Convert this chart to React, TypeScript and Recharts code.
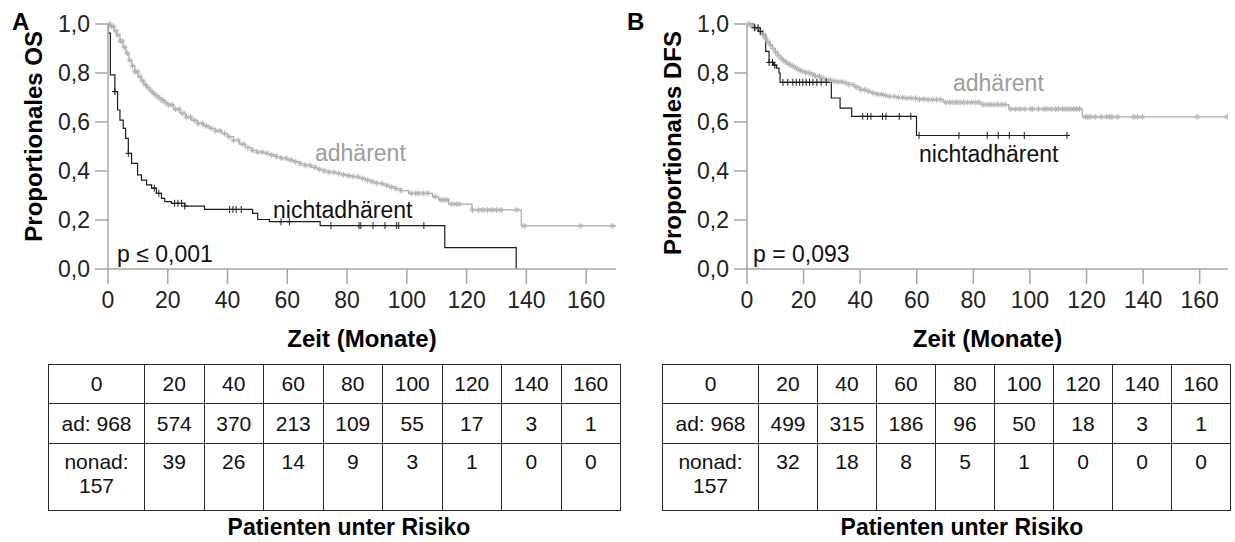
import React from 'react'
import { ComposedChart, Line, Scatter, XAxis, YAxis } from 'recharts'

// x axis (months) and y axis (proportion surviving)
const monthTicks = [0, 20, 40, 60, 80, 100, 120, 140, 160]
const survTicks = [0, 0.2, 0.4, 0.6, 0.8, 1]

// Kaplan-Meier steps [month, proportion]
const osAdCurve: [number, number][] = [
  [0, 1], [1, 0.99], [2, 0.972], [3, 0.955], [4, 0.93], [5, 0.905], [6, 0.88], [7, 0.852],
  [8, 0.83], [9, 0.805], [10, 0.785], [11, 0.768], [12, 0.752], [13, 0.74], [14, 0.728],
  [15, 0.717], [16, 0.708], [17, 0.7], [18, 0.69], [19, 0.68], [20, 0.67], [22, 0.652],
  [24, 0.636], [26, 0.62], [28, 0.607], [30, 0.594], [32, 0.583], [34, 0.574], [36, 0.564],
  [38, 0.553], [40, 0.54], [42, 0.525], [44, 0.51], [46, 0.496], [48, 0.484], [50, 0.477],
  [52, 0.472], [54, 0.466], [56, 0.459], [58, 0.452], [60, 0.445], [62, 0.438], [64, 0.43],
  [66, 0.423], [68, 0.415], [70, 0.407], [72, 0.4], [74, 0.395], [76, 0.39], [78, 0.385],
  [80, 0.381], [82, 0.377], [84, 0.37], [86, 0.363], [88, 0.356], [90, 0.349], [92, 0.342],
  [94, 0.335], [96, 0.328], [98, 0.32], [100.6, 0.309], [108.6, 0.295], [110.7, 0.282],
  [114, 0.265], [121.8, 0.241], [138.3, 0.176], [170, 0.176],
]
const osNonadCurve: [number, number][] = [
  [0, 1], [0, 0.963], [0.8, 0.792], [2.3, 0.724], [3.2, 0.649], [4, 0.608], [5.1, 0.574],
  [5.9, 0.533], [6.8, 0.472], [7.9, 0.431], [9.9, 0.384], [11.2, 0.363], [12.9, 0.343],
  [14.6, 0.33], [16.2, 0.309], [17.9, 0.288], [19, 0.275], [21.2, 0.268], [25.7, 0.257],
  [32.3, 0.243], [48.4, 0.227], [50.1, 0.202], [54, 0.193], [71, 0.177], [112.7, 0.087],
  [136.6, 0.087], [136.6, 0],
]
const dfsAdCurve: [number, number][] = [
  [0, 1], [1, 0.997], [2, 0.99], [3, 0.982], [4, 0.97], [5, 0.957], [6, 0.942], [7, 0.928],
  [8, 0.915], [9, 0.9], [10, 0.885], [11, 0.872], [12, 0.86], [13, 0.85], [14, 0.842],
  [15, 0.835], [16, 0.828], [17, 0.82], [18, 0.813], [19, 0.807], [20, 0.802], [22, 0.795],
  [24, 0.787], [26, 0.778], [28, 0.771], [30, 0.766], [32, 0.764], [34, 0.761], [36, 0.753],
  [38, 0.742], [40, 0.732], [42, 0.725], [44, 0.719], [46, 0.713], [48, 0.708], [50, 0.704],
  [53, 0.7], [56, 0.697], [60, 0.693], [64, 0.691], [69.5, 0.68], [82.8, 0.671],
  [92.5, 0.653], [118.5, 0.621], [170, 0.621],
]
const dfsNonadCurve: [number, number][] = [
  [0, 1], [2.5, 0.985], [4.2, 0.97], [5.6, 0.958], [6.6, 0.888], [7.8, 0.843], [9.4, 0.832],
  [10.4, 0.82], [11.3, 0.8], [11.7, 0.762], [29.8, 0.698], [32.9, 0.657], [37, 0.623],
  [59.9, 0.545], [113.1, 0.545],
]

// censored observations (months)
const osAdCensor = [
  0.5, 1.2, 1.8, 2.6, 3.3, 4.1, 4.8, 5.6, 6.5, 7.3, 8.2, 9.0, 9.9, 10.8, 11.6, 12.5, 13.4,
  14.3, 15.2, 16.1, 17.0, 18.0, 19.1, 20.2, 21.4, 22.6, 23.8, 25.0, 26.3, 27.6, 28.9, 30.2,
  31.6, 33.0, 34.5, 36.0, 37.5, 39.0, 40.5, 42.0, 43.6, 45.2, 46.8, 48.4, 50.0, 51.6, 53.2,
  54.8, 56.4, 58.0, 59.6, 61.2, 62.8, 64.4, 66.0, 67.6, 69.2, 70.8, 72.4, 74.0, 75.6, 77.2,
  78.8, 80.4, 82.0, 83.6, 85.2, 86.8, 88.4, 90.0, 91.6, 93.2, 94.8, 96.4, 98.0, 101.5, 103.0,
  104.0, 105.5, 107.0, 109.5, 111.5, 112.5, 113.5, 115.0, 116.5, 117.5, 122.0, 124.0, 125.5,
  127.0, 128.5, 130.0, 131.5, 136.8, 139.3, 158.2, 168.8,
]
const osNonadCensor = [
  2.3, 6.8, 15.5, 17, 22.3, 23.4, 24.6, 25.7, 40.7, 41.8, 42.9, 44.6, 57.9, 60.7, 74.6, 84,
  84.6, 88.7, 92.7, 96.6, 97.3, 105.7,
]
const dfsAdCensor = [
  0.5, 1.3, 2.1, 3.0, 3.8, 4.7, 5.6, 6.5, 7.4, 8.3, 9.2, 10.1, 11.0, 12.0, 13.0, 14.0, 15.1,
  16.2, 17.3, 18.4, 19.5, 20.7, 21.9, 23.1, 24.3, 25.6, 26.9, 28.2, 29.5, 30.8, 32.1, 33.4,
  34.7, 36.0, 37.4, 38.8, 40.2, 41.6, 43.0, 44.5, 46.0, 47.5, 49.0, 50.5, 52.0, 53.5, 55.0,
  56.5, 58.0, 59.5, 61.0, 62.5, 64.0, 65.5, 67.0, 68.5, 70.2, 71.5, 72.8, 74.0, 75.3, 76.6,
  78.0, 79.3, 80.6, 81.9, 83.5, 84.8, 86.0, 87.3, 88.6, 89.9, 91.2, 93.3, 95.0, 96.5, 98.2,
  100.3, 101.0, 103.0, 105.0, 106.0, 107.5, 109.0, 110.0, 111.5, 112.5, 113.5, 114.5, 115.5,
  116.5, 117.5, 119.6, 120.5, 121.5, 123.1, 125.2, 127.0, 128.2, 129.0, 131.0, 136.7, 138.0,
  139.7, 159.1, 169.7,
]
const dfsNonadCensor = [
  2.7, 3.9, 4.7, 7.8, 9, 9.8, 12.7, 14.4, 16.2, 17.4, 18.6, 19.7, 20.9, 22.1, 23.3, 24.7,
  26.2, 28, 40.9, 42.6, 43.8, 47.9, 49.1, 53.8, 57.9, 60.8, 74.9, 84.9, 88.8, 92.7, 98, 113.1,
]

// numbers at risk
const riskHeader = ['0', '20', '40', '60', '80', '100', '120', '140', '160']
const osAdRisk = ['ad: 968', '574', '370', '213', '109', '55', '17', '3', '1']
const osNonadRisk = ['nonad: 157', '39', '26', '14', '9', '3', '1', '0', '0']
const dfsAdRisk = ['ad: 968', '499', '315', '186', '96', '50', '18', '3', '1']
const dfsNonadRisk = ['nonad: 157', '32', '18', '8', '5', '1', '0', '0', '0']

const FONT = '"Liberation Sans", Arial, sans-serif'
const GRAY_LINE = '#a9a9a9'
const GRAY_MARK = '#b4b4b4'
const DARK = '#1c1c1c'
const AXIS = '#a6a6a6'

const toPoints = (c: [number, number][]) => c.map(([t, s]) => ({ t, s }))

function survAt(curve: [number, number][], t: number) {
  let s = curve[0][1]
  for (const [ct, cs] of curve) if (ct <= t) s = cs
  return s
}
const censorPoints = (curve: [number, number][], times: number[]) =>
  times.map((t) => ({ t, s: survAt(curve, t) }))

const fmt = (v: number) => v.toFixed(1).replace('.', ',')

function GrayMark(props: any) {
  const { cx, cy } = props
  if (cx == null || cy == null) return <g />
  return (
    <g stroke={GRAY_MARK} strokeWidth={1}>
      <line x1={cx} y1={cy - 3} x2={cx} y2={cy + 3} />
      <line x1={cx - 3} y1={cy} x2={cx + 3} y2={cy} />
      <line x1={cx - 2} y1={cy - 2} x2={cx + 2} y2={cy + 2} />
      <line x1={cx - 2} y1={cy + 2} x2={cx + 2} y2={cy - 2} />
    </g>
  )
}

function DarkMark(props: any) {
  const { cx, cy } = props
  if (cx == null || cy == null) return <g />
  return (
    <g stroke={DARK} strokeWidth={1}>
      <line x1={cx} y1={cy - 3.5} x2={cx} y2={cy + 3.5} />
      <line x1={cx - 3} y1={cy} x2={cx + 3} y2={cy} />
    </g>
  )
}

type PanelProps = {
  letter: string
  yTitle: string
  pText: string
  adCurve: [number, number][]
  nonadCurve: [number, number][]
  adCensor: number[]
  nonadCensor: number[]
  width: number
  marginLeft: number
  marginRight: number
  letterX: number
  titleX: number
  titleSize: number
  adLabel: [number, number]
  nonadLabel: [number, number]
  pX: number
}

function KmPanel(p: PanelProps) {
  const plotCenter = p.marginLeft + 60 + (p.width - p.marginLeft - 60 - p.marginRight) / 2
  return (
    <ComposedChart
      width={p.width}
      height={360}
      margin={{ top: 24, right: p.marginRight, bottom: 31, left: p.marginLeft }}
      style={{ fontFamily: FONT }}
    >
      <XAxis
        dataKey="t"
        type="number"
        domain={[0, 170]}
        ticks={monthTicks}
        allowDataOverflow
        height={60}
        stroke={AXIS}
        strokeWidth={1.5}
        tickSize={15}
        tickMargin={8}
        tick={{ fill: '#222', fontSize: 23, fontFamily: FONT }}
      />
      <YAxis
        dataKey="s"
        type="number"
        domain={[0, 1]}
        ticks={survTicks}
        width={60}
        stroke={AXIS}
        strokeWidth={1.5}
        tickSize={13}
        tickMargin={5}
        tickFormatter={fmt}
        tick={{ fill: '#222', fontSize: 23, fontFamily: FONT }}
      />
      <Line
        data={toPoints(p.adCurve)}
        dataKey="s"
        type="stepAfter"
        stroke={GRAY_LINE}
        strokeWidth={1.2}
        dot={false}
        activeDot={false}
        isAnimationActive={false}
      />
      <Line
        data={toPoints(p.nonadCurve)}
        dataKey="s"
        type="stepAfter"
        stroke={DARK}
        strokeWidth={1.2}
        dot={false}
        activeDot={false}
        isAnimationActive={false}
      />
      <Scatter
        data={censorPoints(p.adCurve, p.adCensor)}
        dataKey="s"
        shape={(props: any) => <GrayMark {...props} />}
        isAnimationActive={false}
      />
      <Scatter
        data={censorPoints(p.nonadCurve, p.nonadCensor)}
        dataKey="s"
        shape={(props: any) => <DarkMark {...props} />}
        isAnimationActive={false}
      />
      <text x={p.letterX} y={30} fontSize={24} fontWeight="bold" fill="#000" fontFamily={FONT}>
        {p.letter}
      </text>
      <text
        x={p.titleX}
        y={31}
        transform={`rotate(-90, ${p.titleX}, 31)`}
        textAnchor="end"
        fontSize={p.titleSize}
        fontWeight="bold"
        fill="#000"
        fontFamily={FONT}
      >
        {p.yTitle}
      </text>
      <text x={plotCenter} y={347} textAnchor="middle" fontSize={24} fontWeight="bold" fill="#000" fontFamily={FONT}>
        Zeit (Monate)
      </text>
      <text x={p.adLabel[0]} y={p.adLabel[1]} fontSize={23} fill="#9c9c9c" fontFamily={FONT}>
        adhärent
      </text>
      <text x={p.nonadLabel[0]} y={p.nonadLabel[1]} fontSize={23} fill="#111" fontFamily={FONT}>
        nichtadhärent
      </text>
      <text x={p.pX} y={262} fontSize={23} fill="#111" fontFamily={FONT}>
        {p.pText}
      </text>
    </ComposedChart>
  )
}

function RiskTable({ left, top, firstCol, colW, rows }: { left: number; top: number; firstCol: number; colW: number; rows: string[][] }) {
  const cell: React.CSSProperties = {
    border: '1.5px solid #2a2a2a',
    textAlign: 'center',
    padding: 0,
    fontSize: 21,
    lineHeight: '24px',
    color: '#111',
  }
  const heights = [39, 40, 67]
  return (
    <table
      style={{
        position: 'absolute',
        left,
        top,
        borderCollapse: 'collapse',
        tableLayout: 'fixed',
        fontFamily: FONT,
        width: firstCol + colW * 8,
      }}
    >
      <colgroup>
        <col style={{ width: firstCol }} />
        {riskHeader.slice(1).map((h) => (
          <col key={h} style={{ width: colW }} />
        ))}
      </colgroup>
      <tbody>
        {rows.map((r, i) => (
          <tr key={i} style={{ height: heights[i] }}>
            {r.map((v, j) => (
              <td
                key={j}
                style={{ ...cell, verticalAlign: i === 2 ? 'top' : 'middle', paddingTop: i === 2 ? 6 : 0 }}
              >
                {i === 2 && j === 0 ? (
                  <>
                    {v.split(' ')[0]}
                    <br />
                    {v.split(' ')[1]}
                  </>
                ) : (
                  v
                )}
              </td>
            ))}
          </tr>
        ))}
      </tbody>
    </table>
  )
}

export default function App() {
  return (
    <div style={{ position: 'relative', width: 1235, height: 542, background: '#fff', fontFamily: FONT, overflow: 'hidden' }}>
      <style>{'body{margin:0}'}</style>
      <div style={{ position: 'absolute', left: 0, top: 0 }}>
        <KmPanel
          letter="A"
          yTitle="Proportionales OS"
          pText="p ≤ 0,001"
          adCurve={osAdCurve}
          nonadCurve={osNonadCurve}
          adCensor={osAdCensor}
          nonadCensor={osNonadCensor}
          width={620}
          marginLeft={48}
          marginRight={4}
          letterX={12}
          titleX={42}
          titleSize={24}
          adLabel={[315, 161]}
          nonadLabel={[273, 218]}
          pX={117}
        />
      </div>
      <div style={{ position: 'absolute', left: 620, top: 0 }}>
        <KmPanel
          letter="B"
          yTitle="Proportionales DFS"
          pText="p = 0,093"
          adCurve={dfsAdCurve}
          nonadCurve={dfsNonadCurve}
          adCensor={dfsAdCensor}
          nonadCensor={dfsNonadCensor}
          width={615}
          marginLeft={67}
          marginRight={7}
          letterX={7}
          titleX={61}
          titleSize={24}
          adLabel={[333, 91]}
          nonadLabel={[299, 162]}
          pX={133}
        />
      </div>
      <RiskTable left={48} top={364} firstCol={96} colW={59.5} rows={[riskHeader, osAdRisk, osNonadRisk]} />
      <RiskTable left={662} top={364} firstCol={96} colW={59} rows={[riskHeader, dfsAdRisk, dfsNonadRisk]} />
      <div style={{ position: 'absolute', left: 149, top: 514, width: 400, textAlign: 'center', fontSize: 23, fontWeight: 'bold', color: '#000' }}>
        Patienten unter Risiko
      </div>
      <div style={{ position: 'absolute', left: 762, top: 514, width: 400, textAlign: 'center', fontSize: 23, fontWeight: 'bold', color: '#000' }}>
        Patienten unter Risiko
      </div>
    </div>
  )
}
